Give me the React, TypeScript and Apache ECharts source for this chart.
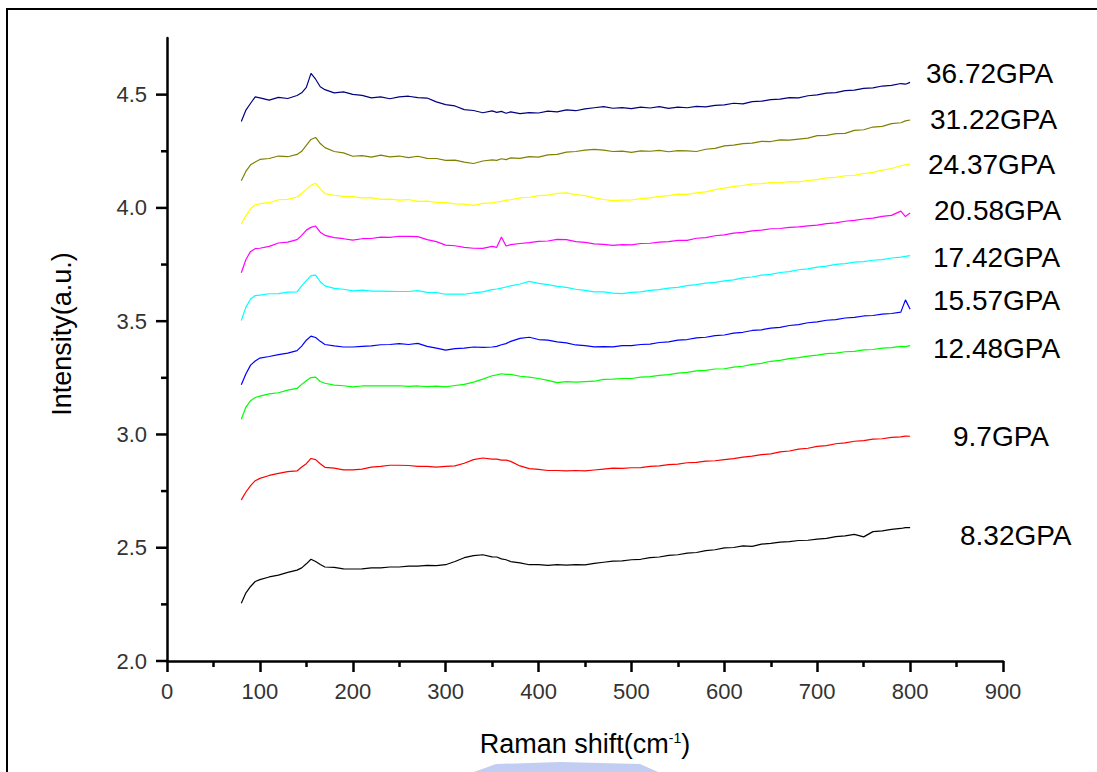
import React, { useEffect, useRef } from 'react';
import * as echarts from 'echarts';

// Raman shift (cm-1) sample positions shared by all spectra
const X = [
  80, 85, 90, 95, 100, 110, 120, 130, 140, 145, 150, 155, 160, 165, 170,
  180, 190, 200, 210, 220, 230, 240, 250, 260, 270, 280, 290, 300, 310, 320, 330, 340, 350,
  355, 360, 365,
  370, 380, 390, 400, 410, 420, 430, 440, 450, 460, 470,
  480, 490, 500, 510, 520, 530, 540, 550, 560, 570, 580,
  590, 600, 610, 620, 630, 640, 650, 660, 670, 680, 690,
  700, 710, 720, 730, 740, 750, 760, 770, 780, 790,
  795, 800,
];

const P_36_72 = [
  4.381, 4.432, 4.462, 4.49, 4.486, 4.476, 4.488, 4.483, 4.496, 4.508, 4.532, 4.594, 4.568, 4.535, 4.522,
  4.508, 4.512, 4.501, 4.497, 4.486, 4.49, 4.482, 4.49, 4.493, 4.487, 4.485, 4.468, 4.456, 4.45, 4.434, 4.43, 4.42, 4.428,
  4.422, 4.426, 4.418,
  4.424, 4.416, 4.421, 4.419, 4.427, 4.424, 4.433, 4.429, 4.437, 4.442, 4.447,
  4.44, 4.443, 4.438, 4.445, 4.441, 4.447, 4.439, 4.445, 4.442, 4.448, 4.446,
  4.453, 4.455, 4.462, 4.459, 4.469, 4.471, 4.478, 4.48, 4.487, 4.486, 4.495,
  4.499, 4.507, 4.509, 4.518, 4.52, 4.528, 4.53, 4.538, 4.541, 4.549,
  4.546, 4.554,
];
const P_31_22 = [
  4.12, 4.162, 4.19, 4.203, 4.214, 4.218, 4.229, 4.226, 4.236, 4.25, 4.276, 4.302, 4.311, 4.284, 4.266,
  4.249, 4.243, 4.228, 4.231, 4.224, 4.233, 4.225, 4.229, 4.222, 4.228, 4.219, 4.218, 4.21, 4.211, 4.202, 4.196, 4.207, 4.212,
  4.21, 4.217, 4.213,
  4.221, 4.219, 4.226, 4.224, 4.234, 4.236, 4.246, 4.249, 4.255, 4.258, 4.255,
  4.249, 4.251, 4.245, 4.252, 4.25, 4.254, 4.248, 4.253, 4.252, 4.249, 4.259,
  4.263, 4.274, 4.277, 4.284, 4.286, 4.294, 4.293, 4.3, 4.299, 4.304, 4.308,
  4.319, 4.32, 4.328, 4.329, 4.342, 4.345, 4.357, 4.36, 4.372, 4.376,
  4.384, 4.388,
];
const P_24_37 = [
  3.929, 3.966, 3.996, 4.014, 4.019, 4.023, 4.036, 4.038, 4.048, 4.064, 4.082, 4.1, 4.109, 4.084, 4.063,
  4.056, 4.051, 4.05, 4.044, 4.045, 4.038, 4.039, 4.034, 4.037, 4.029, 4.03, 4.024, 4.023, 4.018, 4.017, 4.011, 4.02, 4.022,
  4.026, 4.029, 4.034,
  4.036, 4.044, 4.047, 4.054, 4.056, 4.064, 4.066, 4.059, 4.054, 4.044, 4.037,
  4.032, 4.034, 4.035, 4.041, 4.044, 4.051, 4.054, 4.061, 4.06, 4.066, 4.071,
  4.081, 4.087, 4.095, 4.099, 4.106, 4.107, 4.112, 4.111, 4.116, 4.115, 4.121,
  4.125, 4.133, 4.135, 4.142, 4.144, 4.152, 4.157, 4.167, 4.174, 4.186,
  4.19, 4.194,
];
const P_20_58 = [
  3.714, 3.772, 3.808, 3.82, 3.822, 3.83, 3.845, 3.849, 3.86, 3.879, 3.902, 3.914, 3.92, 3.893, 3.879,
  3.869, 3.864, 3.858, 3.864, 3.865, 3.871, 3.87, 3.875, 3.874, 3.873, 3.86, 3.851, 3.836, 3.833, 3.826, 3.822, 3.821, 3.83,
  3.826, 3.872, 3.832,
  3.838, 3.843, 3.847, 3.852, 3.854, 3.861, 3.86, 3.851, 3.848, 3.841, 3.839,
  3.835, 3.838, 3.837, 3.843, 3.844, 3.849, 3.851, 3.857, 3.857, 3.866, 3.869,
  3.877, 3.881, 3.889, 3.892, 3.899, 3.902, 3.908, 3.909, 3.914, 3.916, 3.921,
  3.924, 3.931, 3.934, 3.941, 3.945, 3.951, 3.955, 3.963, 3.967, 3.986,
  3.962, 3.978,
];
const P_17_42 = [
  3.503, 3.562, 3.598, 3.613, 3.615, 3.621, 3.622, 3.628, 3.629, 3.656, 3.679, 3.701, 3.703, 3.674, 3.656,
  3.645, 3.641, 3.634, 3.637, 3.633, 3.633, 3.632, 3.631, 3.631, 3.635, 3.627, 3.626, 3.619, 3.619, 3.619, 3.625, 3.629, 3.639,
  3.642, 3.646, 3.651,
  3.656, 3.664, 3.676, 3.667, 3.661, 3.654, 3.649, 3.641, 3.636, 3.629, 3.629,
  3.624, 3.622, 3.627, 3.629, 3.636, 3.639, 3.646, 3.649, 3.657, 3.661, 3.668,
  3.671, 3.678, 3.682, 3.691, 3.695, 3.703, 3.707, 3.715, 3.719, 3.727, 3.731,
  3.739, 3.743, 3.751, 3.754, 3.761, 3.763, 3.769, 3.772, 3.779, 3.783,
  3.786, 3.789,
];
const P_15_57 = [
  3.219, 3.268, 3.306, 3.324, 3.337, 3.344, 3.352, 3.359, 3.37, 3.39, 3.416, 3.434, 3.428, 3.411, 3.397,
  3.391, 3.386, 3.386, 3.389, 3.391, 3.396, 3.397, 3.401, 3.397, 3.402, 3.389, 3.381, 3.372, 3.379, 3.381, 3.386, 3.384, 3.386,
  3.389, 3.396, 3.401,
  3.411, 3.424, 3.429, 3.419, 3.416, 3.409, 3.404, 3.395, 3.392, 3.387, 3.388,
  3.387, 3.392, 3.392, 3.397, 3.399, 3.406, 3.409, 3.416, 3.419, 3.426, 3.429,
  3.436, 3.439, 3.447, 3.451, 3.459, 3.462, 3.469, 3.473, 3.481, 3.485, 3.493,
  3.497, 3.504, 3.507, 3.514, 3.517, 3.523, 3.525, 3.531, 3.534, 3.54,
  3.594, 3.553,
];
const P_12_48 = [
  3.067, 3.121, 3.149, 3.163, 3.169, 3.179, 3.184, 3.196, 3.203, 3.221, 3.237, 3.251, 3.253, 3.234, 3.226,
  3.218, 3.215, 3.21, 3.214, 3.214, 3.215, 3.214, 3.215, 3.212, 3.214, 3.211, 3.213, 3.21, 3.216, 3.221, 3.231, 3.244, 3.259,
  3.263, 3.268, 3.265,
  3.265, 3.257, 3.253, 3.247, 3.239, 3.229, 3.233, 3.231, 3.233, 3.235, 3.243,
  3.244, 3.247, 3.247, 3.253, 3.255, 3.261, 3.264, 3.271, 3.274, 3.281, 3.283,
  3.289, 3.29, 3.297, 3.301, 3.309, 3.314, 3.323, 3.327, 3.335, 3.339, 3.346,
  3.35, 3.357, 3.359, 3.365, 3.367, 3.373, 3.375, 3.381, 3.383, 3.389,
  3.388, 3.392,
];
const P_9_7 = [
  2.711, 2.746, 2.774, 2.796, 2.806, 2.819, 2.828, 2.836, 2.839, 2.856, 2.871, 2.894, 2.889, 2.871, 2.855,
  2.851, 2.844, 2.844, 2.847, 2.856, 2.859, 2.864, 2.864, 2.863, 2.859, 2.859, 2.856, 2.859, 2.861, 2.873, 2.889, 2.896, 2.891,
  2.891, 2.887, 2.887,
  2.881, 2.861, 2.849, 2.846, 2.841, 2.841, 2.839, 2.841, 2.839, 2.843, 2.847,
  2.851, 2.85, 2.853, 2.854, 2.859, 2.861, 2.867, 2.869, 2.875, 2.877, 2.882,
  2.884, 2.889, 2.893, 2.9, 2.904, 2.911, 2.914, 2.923, 2.927, 2.935, 2.939,
  2.947, 2.951, 2.959, 2.963, 2.97, 2.973, 2.979, 2.981, 2.987, 2.989,
  2.993, 2.992,
];
const P_8_32 = [
  2.255, 2.301, 2.329, 2.351, 2.359, 2.371, 2.379, 2.391, 2.401, 2.411, 2.429, 2.449, 2.439, 2.426, 2.415,
  2.413, 2.407, 2.406, 2.407, 2.411, 2.411, 2.415, 2.415, 2.419, 2.419, 2.422, 2.421, 2.425, 2.439, 2.456, 2.465, 2.469, 2.46,
  2.459, 2.451, 2.447,
  2.439, 2.433, 2.425, 2.425, 2.422, 2.425, 2.423, 2.425, 2.424, 2.431, 2.436,
  2.441, 2.442, 2.447, 2.449, 2.456, 2.459, 2.466, 2.469, 2.476, 2.479, 2.487,
  2.491, 2.499, 2.501, 2.508, 2.506, 2.516, 2.519, 2.525, 2.527, 2.532, 2.533,
  2.538, 2.541, 2.549, 2.552, 2.559, 2.548, 2.571, 2.574, 2.581, 2.585,
  2.589, 2.589,
];

const SERIES_NAMES = ['36.72GPA', '31.22GPA', '24.37GPA', '20.58GPA', '17.42GPA', '15.57GPA', '12.48GPA', '9.7GPA', '8.32GPA'];
const SERIES_VALUES = [P_36_72, P_31_22, P_24_37, P_20_58, P_17_42, P_15_57, P_12_48, P_9_7, P_8_32];
const SERIES_COLORS = ['#000080', '#808000', '#ffff00', '#ff00ff', '#00ffff', '#0000ff', '#00ff00', '#ff0000', '#000000'];

const Y_MAJOR = [2.0, 2.5, 3.0, 3.5, 4.0, 4.5];
const Y_MINOR = [2.25, 2.75, 3.25, 3.75, 4.25];

const FONT = '"Liberation Sans", Arial, Helvetica, sans-serif';

// label anchor positions (left, middle) in page pixels
const LABEL_POS: [number, number][] = [
  [926, 75], [930, 121], [928, 166], [934, 212], [933, 259], [933, 302], [933, 350], [953, 438], [960, 537],
];

export default function App() {
  const ref = useRef<HTMLDivElement>(null);
  useEffect(() => {
    if (!ref.current) return;
    const chart = echarts.init(ref.current, null, { renderer: 'svg' });

    const lineSeries = SERIES_NAMES.map((name, si) => ({
      name,
      type: 'line',
      data: X.map((x, i) => [x, SERIES_VALUES[si][i]]),
      showSymbol: false,
      symbol: 'none',
      lineStyle: { color: SERIES_COLORS[si], width: 1.2 },
      itemStyle: { color: SERIES_COLORS[si] },
      z: 3,
    }));

    const tickSeries = {
      type: 'custom',
      coordinateSystem: 'cartesian2d',
      silent: true,
      clip: false,
      encode: { x: 0, y: 1 },
      data: [...Y_MAJOR.map((v) => [0, v, 1]), ...Y_MINOR.map((v) => [0, v, 0])],
      renderItem: (_params: any, api: any) => {
        const p = api.coord([0, api.value(1)]);
        const len = api.value(2) === 1 ? 11 : 6;
        return {
          type: 'line',
          shape: { x1: p[0] - len, y1: p[1], x2: p[0], y2: p[1] },
          style: { stroke: '#000', lineWidth: 2.5 },
        };
      },
      z: 5,
    };

    const labelGraphics = SERIES_NAMES.map((name, i) => ({
      type: 'text',
      left: LABEL_POS[i][0],
      top: LABEL_POS[i][1] - 16,
      style: { text: name, fontSize: 28, fontFamily: FONT, fill: '#000' },
      z: 10,
    }));

    chart.setOption({
      animation: false,
      backgroundColor: '#ffffff',
      grid: { left: 167, right: 94, top: 38, bottom: 111, outerBoundsMode: 'none', containLabel: false },
      xAxis: {
        type: 'value',
        min: 0,
        max: 900,
        interval: 100,
        axisLine: { show: true, onZero: false, lineStyle: { color: '#000', width: 2.5 } },
        axisTick: { show: true, length: 11, lineStyle: { color: '#000', width: 2.5 } },
        minorTick: { show: true, splitNumber: 2, length: 6, lineStyle: { color: '#000', width: 2.5 } },
        splitLine: { show: false },
        axisLabel: { fontSize: 22, color: '#333', fontFamily: FONT, margin: 19 },
      },
      yAxis: {
        type: 'value',
        min: 2.0,
        max: 4.75,
        interval: 0.5,
        axisLine: { show: true, onZero: false, lineStyle: { color: '#000', width: 2.5 } },
        axisTick: { show: false },
        minorTick: { show: false },
        splitLine: { show: false },
        axisLabel: {
          fontSize: 22,
          color: '#333',
          fontFamily: FONT,
          margin: 20,
          showMaxLabel: false,
          formatter: (v: number) => (Math.abs(v - 4.75) < 1e-6 ? '' : v.toFixed(1)),
        },
      },
      series: [...lineSeries, tickSeries],
      graphic: [
        { type: 'line', shape: { x1: 7, y1: 9, x2: 1097, y2: 9 }, style: { stroke: '#000', lineWidth: 2 }, z: 20 },
        { type: 'line', shape: { x1: 7, y1: 8, x2: 7, y2: 772 }, style: { stroke: '#000', lineWidth: 2 }, z: 20 },
        {
          type: 'polygon',
          shape: { points: [[474, 772], [496, 764], [560, 762], [640, 764], [658, 772]] },
          style: { fill: '#c2cdf2' },
          z: 1,
        },
        {
          type: 'text',
          x: 62,
          y: 334,
          rotation: Math.PI / 2,
          style: {
            text: 'Intensity(a.u.)',
            fontSize: 27,
            fontFamily: FONT,
            fill: '#000',
            align: 'center',
            verticalAlign: 'middle',
          },
          z: 10,
        },
        {
          type: 'text',
          x: 585,
          y: 744,
          style: {
            text: 'Raman shift(cm{sup|-1})',
            fontSize: 27,
            fontFamily: FONT,
            fill: '#000',
            align: 'center',
            verticalAlign: 'middle',
            rich: {
              sup: { fontSize: 14, fontFamily: FONT, fill: '#000', verticalAlign: 'top', lineHeight: 14, padding: [0, 0, 14, 0] },
            },
          },
          z: 10,
        },
        ...labelGraphics,
      ],
    });
    return () => chart.dispose();
  }, []);
  return (
    <div
      ref={ref}
      style={{ position: 'fixed', left: 0, top: 0, width: 1097, height: 772, background: '#fff' }}
    />
  );
}
